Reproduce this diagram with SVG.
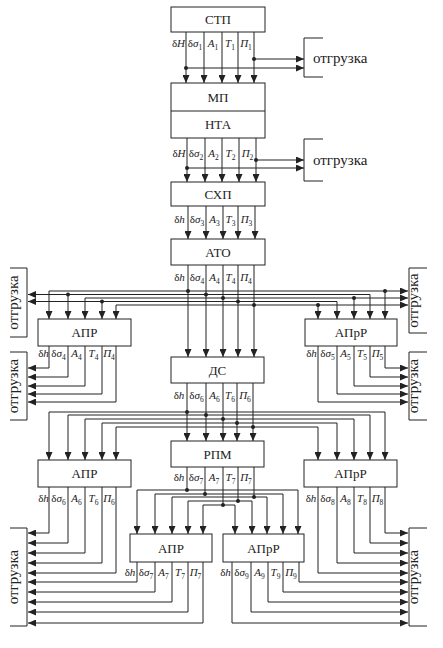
<svg xmlns="http://www.w3.org/2000/svg" width="443" height="648" viewBox="0 0 443 648">
<defs>
<style>
.ln{fill:none;stroke:#222;stroke-width:1}
.ar{marker-end:url(#ah)}
.box{fill:#fff;stroke:#222;stroke-width:1}
.bl{font-family:"Liberation Serif",serif;font-size:13px;text-anchor:middle;fill:#222}
.sg{font-family:"Liberation Serif",serif;font-size:11px;text-anchor:middle;fill:#222}
.i{font-style:italic}
.s{font-size:7.5px}
.ot{font-family:"Liberation Serif",serif;font-size:15px;fill:#222}
.otv{font-family:"Liberation Serif",serif;font-size:15px;fill:#222;text-anchor:middle}
.dot{fill:#222}
</style>
<marker id="ah" markerUnits="userSpaceOnUse" markerWidth="8" markerHeight="7" refX="8" refY="3.5" orient="auto">
<path d="M0,0L8,3.5L0,7z" fill="#222"/>
</marker>
</defs>
<rect width="443" height="648" fill="#fff"/>

<g id="connectors">
<path class="ln ar" d="M186,32V83"/><path class="ln ar" d="M204,32V83"/><path class="ln ar" d="M222,32V83"/><path class="ln ar" d="M238,32V83"/><path class="ln ar" d="M254,32V83"/>
<path class="ln ar" d="M254,59H304"/><path class="ln ar" d="M186,68H304"/>
<path class="ln ar" d="M187,138V182"/><path class="ln ar" d="M205,138V182"/><path class="ln ar" d="M222,138V182"/><path class="ln ar" d="M239,138V182"/><path class="ln ar" d="M256,138V182"/>
<path class="ln ar" d="M256,160H304"/><path class="ln ar" d="M187,168H304"/>
<path class="ln ar" d="M188,206V239"/><path class="ln ar" d="M206,206V239"/><path class="ln ar" d="M223,206V239"/><path class="ln ar" d="M238,206V239"/><path class="ln ar" d="M255,206V239"/>
<path class="ln ar" d="M188,265V357"/><path class="ln ar" d="M206,265V357"/><path class="ln ar" d="M223,265V357"/><path class="ln ar" d="M238,265V357"/><path class="ln ar" d="M254,265V357"/>
<path class="ln ar" d="M188,291H49V319"/><path class="ln ar" d="M188,291H408"/><path class="ln ar" d="M385,291V319"/>
<path class="ln ar" d="M206,294.5H28"/><path class="ln ar" d="M68,294.5V319"/><path class="ln ar" d="M206,294.5H370V319"/>
<path class="ln ar" d="M223,298H85V319"/><path class="ln ar" d="M223,298H408"/><path class="ln ar" d="M354,298V319"/>
<path class="ln ar" d="M238,301.5H28"/><path class="ln ar" d="M102,301.5V319"/><path class="ln ar" d="M238,301.5H337V319"/>
<path class="ln ar" d="M254,305H116V319"/><path class="ln ar" d="M254,305H408"/><path class="ln ar" d="M318,305V319"/>
<path class="ln ar" d="M49,346V368H28"/><path class="ln ar" d="M68,346V377H28"/><path class="ln ar" d="M85,346V386H28"/><path class="ln ar" d="M102,346V394H28"/><path class="ln ar" d="M116,346V402H28"/>
<path class="ln ar" d="M385,346V368H408"/><path class="ln ar" d="M370,346V377H408"/><path class="ln ar" d="M354,346V386H408"/><path class="ln ar" d="M337,346V394H408"/><path class="ln ar" d="M318,346V402H408"/>
<path class="ln ar" d="M187,383V441"/><path class="ln ar" d="M206,383V441"/><path class="ln ar" d="M223,383V441"/><path class="ln ar" d="M237,383V441"/><path class="ln ar" d="M253,383V441"/>
<path class="ln ar" d="M187,412H49V460"/><path class="ln ar" d="M187,412H385V460"/>
<path class="ln ar" d="M206,415H68V460"/><path class="ln ar" d="M206,415H370V460"/>
<path class="ln ar" d="M223,419H85V460"/><path class="ln ar" d="M223,419H354V460"/>
<path class="ln ar" d="M237,423H102V460"/><path class="ln ar" d="M237,423H337V460"/>
<path class="ln ar" d="M253,427H116V460"/><path class="ln ar" d="M253,427H318V460"/>
<path class="ln ar" d="M49,487V533H28"/><path class="ln ar" d="M68,487V543H28"/><path class="ln ar" d="M85,487V553H28"/><path class="ln ar" d="M102,487V563H28"/><path class="ln ar" d="M116,487V573H28"/>
<path class="ln ar" d="M385,487V533H408"/><path class="ln ar" d="M370,487V543H408"/><path class="ln ar" d="M354,487V553H408"/><path class="ln ar" d="M337,487V563H408"/><path class="ln ar" d="M318,487V573H408"/>
<path class="ln" d="M187,467V490"/><path class="ln" d="M205,467V494"/><path class="ln" d="M223,467V505"/><path class="ln" d="M238,467V501"/><path class="ln" d="M254,467V497"/>
<path class="ln ar" d="M187,490H137V534"/><path class="ln ar" d="M187,490H298V534"/>
<path class="ln ar" d="M205,494H155V534"/><path class="ln ar" d="M205,494H283V534"/>
<path class="ln ar" d="M254,497H172V534"/><path class="ln ar" d="M254,497H267V534"/>
<path class="ln ar" d="M238,501H188V534"/><path class="ln ar" d="M238,501H252V534"/>
<path class="ln ar" d="M223,505H203V534"/><path class="ln ar" d="M223,505H235V534"/>
<path class="ln ar" d="M137,562V582H28"/><path class="ln ar" d="M155,562V592H28"/><path class="ln ar" d="M172,562V602H28"/><path class="ln ar" d="M188,562V612H28"/><path class="ln ar" d="M203,562V623H28"/>
<path class="ln ar" d="M299,562V582H408"/><path class="ln ar" d="M283,562V592H408"/><path class="ln ar" d="M268,562V602H408"/><path class="ln ar" d="M251,562V612H408"/><path class="ln ar" d="M232,562V623H408"/>
<circle class="dot" cx="254" cy="59" r="2"/><circle class="dot" cx="186" cy="68" r="2"/>
<circle class="dot" cx="256" cy="160" r="2"/><circle class="dot" cx="187" cy="168" r="2"/>
<circle class="dot" cx="188" cy="291" r="2"/><circle class="dot" cx="385" cy="291" r="2"/>
<circle class="dot" cx="206" cy="294.5" r="2"/><circle class="dot" cx="68" cy="294.5" r="2"/>
<circle class="dot" cx="223" cy="298" r="2"/><circle class="dot" cx="354" cy="298" r="2"/>
<circle class="dot" cx="238" cy="301.5" r="2"/><circle class="dot" cx="102" cy="301.5" r="2"/>
<circle class="dot" cx="254" cy="305" r="2"/><circle class="dot" cx="318" cy="305" r="2"/>
<circle class="dot" cx="187" cy="412" r="2"/><circle class="dot" cx="206" cy="415" r="2"/><circle class="dot" cx="223" cy="419" r="2"/><circle class="dot" cx="237" cy="423" r="2"/><circle class="dot" cx="253" cy="427" r="2"/>
<circle class="dot" cx="187" cy="490" r="2"/><circle class="dot" cx="205" cy="494" r="2"/><circle class="dot" cx="254" cy="497" r="2"/><circle class="dot" cx="238" cy="501" r="2"/><circle class="dot" cx="223" cy="505" r="2"/>
</g>

<g id="signal-labels">
<text class="sg" x="178.5" y="47">δ<tspan class="i">H</tspan></text>
<text class="sg" x="195" y="47">δ<tspan class="i">σ</tspan><tspan class="s" dy="2.5">1</tspan></text>
<text class="sg" x="213" y="47"><tspan class="i">A</tspan><tspan class="s" dy="2.5">1</tspan></text>
<text class="sg" x="230" y="47"><tspan class="i">T</tspan><tspan class="s" dy="2.5">1</tspan></text>
<text class="sg" x="246" y="47"><tspan class="i">П</tspan><tspan class="s" dy="2.5">1</tspan></text>

<text class="sg" x="179" y="157">δ<tspan class="i">H</tspan></text>
<text class="sg" x="196" y="157">δ<tspan class="i">σ</tspan><tspan class="s" dy="2.5">2</tspan></text>
<text class="sg" x="213.5" y="157"><tspan class="i">A</tspan><tspan class="s" dy="2.5">2</tspan></text>
<text class="sg" x="230.5" y="157"><tspan class="i">T</tspan><tspan class="s" dy="2.5">2</tspan></text>
<text class="sg" x="247.5" y="157"><tspan class="i">П</tspan><tspan class="s" dy="2.5">2</tspan></text>

<text class="sg" x="179.5" y="223">δ<tspan class="i">h</tspan></text>
<text class="sg" x="197" y="223">δ<tspan class="i">σ</tspan><tspan class="s" dy="2.5">3</tspan></text>
<text class="sg" x="214.5" y="223"><tspan class="i">A</tspan><tspan class="s" dy="2.5">3</tspan></text>
<text class="sg" x="230.5" y="223"><tspan class="i">T</tspan><tspan class="s" dy="2.5">3</tspan></text>
<text class="sg" x="246.5" y="223"><tspan class="i">П</tspan><tspan class="s" dy="2.5">3</tspan></text>

<text class="sg" x="179.5" y="281">δ<tspan class="i">h</tspan></text>
<text class="sg" x="197" y="281">δ<tspan class="i">σ</tspan><tspan class="s" dy="2.5">4</tspan></text>
<text class="sg" x="214.5" y="281"><tspan class="i">A</tspan><tspan class="s" dy="2.5">4</tspan></text>
<text class="sg" x="230.5" y="281"><tspan class="i">T</tspan><tspan class="s" dy="2.5">4</tspan></text>
<text class="sg" x="246" y="281"><tspan class="i">П</tspan><tspan class="s" dy="2.5">4</tspan></text>

<text class="sg" x="43.5" y="357">δ<tspan class="i">h</tspan></text>
<text class="sg" x="58.5" y="357">δ<tspan class="i">σ</tspan><tspan class="s" dy="2.5">4</tspan></text>
<text class="sg" x="76.5" y="357"><tspan class="i">A</tspan><tspan class="s" dy="2.5">4</tspan></text>
<text class="sg" x="93.5" y="357"><tspan class="i">T</tspan><tspan class="s" dy="2.5">4</tspan></text>
<text class="sg" x="109" y="357"><tspan class="i">П</tspan><tspan class="s" dy="2.5">4</tspan></text>

<text class="sg" x="311.5" y="357">δ<tspan class="i">h</tspan></text>
<text class="sg" x="327.5" y="357">δ<tspan class="i">σ</tspan><tspan class="s" dy="2.5">5</tspan></text>
<text class="sg" x="345.5" y="357"><tspan class="i">A</tspan><tspan class="s" dy="2.5">5</tspan></text>
<text class="sg" x="362" y="357"><tspan class="i">T</tspan><tspan class="s" dy="2.5">5</tspan></text>
<text class="sg" x="377.5" y="357"><tspan class="i">П</tspan><tspan class="s" dy="2.5">5</tspan></text>

<text class="sg" x="179" y="399">δ<tspan class="i">h</tspan></text>
<text class="sg" x="196.5" y="399">δ<tspan class="i">σ</tspan><tspan class="s" dy="2.5">6</tspan></text>
<text class="sg" x="214.5" y="399"><tspan class="i">A</tspan><tspan class="s" dy="2.5">6</tspan></text>
<text class="sg" x="230" y="399"><tspan class="i">T</tspan><tspan class="s" dy="2.5">6</tspan></text>
<text class="sg" x="245" y="399"><tspan class="i">П</tspan><tspan class="s" dy="2.5">6</tspan></text>

<text class="sg" x="179" y="481">δ<tspan class="i">h</tspan></text>
<text class="sg" x="196" y="481">δ<tspan class="i">σ</tspan><tspan class="s" dy="2.5">7</tspan></text>
<text class="sg" x="214" y="481"><tspan class="i">A</tspan><tspan class="s" dy="2.5">7</tspan></text>
<text class="sg" x="230.5" y="481"><tspan class="i">T</tspan><tspan class="s" dy="2.5">7</tspan></text>
<text class="sg" x="246" y="481"><tspan class="i">П</tspan><tspan class="s" dy="2.5">7</tspan></text>

<text class="sg" x="43.5" y="502">δ<tspan class="i">h</tspan></text>
<text class="sg" x="58.5" y="502">δ<tspan class="i">σ</tspan><tspan class="s" dy="2.5">6</tspan></text>
<text class="sg" x="76.5" y="502"><tspan class="i">A</tspan><tspan class="s" dy="2.5">6</tspan></text>
<text class="sg" x="93.5" y="502"><tspan class="i">T</tspan><tspan class="s" dy="2.5">6</tspan></text>
<text class="sg" x="109" y="502"><tspan class="i">П</tspan><tspan class="s" dy="2.5">6</tspan></text>

<text class="sg" x="311" y="502">δ<tspan class="i">h</tspan></text>
<text class="sg" x="327.5" y="502">δ<tspan class="i">σ</tspan><tspan class="s" dy="2.5">8</tspan></text>
<text class="sg" x="345.5" y="502"><tspan class="i">A</tspan><tspan class="s" dy="2.5">8</tspan></text>
<text class="sg" x="362" y="502"><tspan class="i">T</tspan><tspan class="s" dy="2.5">8</tspan></text>
<text class="sg" x="377.5" y="502"><tspan class="i">П</tspan><tspan class="s" dy="2.5">8</tspan></text>

<text class="sg" x="130" y="576">δ<tspan class="i">h</tspan></text>
<text class="sg" x="146" y="576">δ<tspan class="i">σ</tspan><tspan class="s" dy="2.5">7</tspan></text>
<text class="sg" x="163.5" y="576"><tspan class="i">A</tspan><tspan class="s" dy="2.5">7</tspan></text>
<text class="sg" x="180" y="576"><tspan class="i">T</tspan><tspan class="s" dy="2.5">7</tspan></text>
<text class="sg" x="195.5" y="576"><tspan class="i">П</tspan><tspan class="s" dy="2.5">7</tspan></text>

<text class="sg" x="225.5" y="576">δ<tspan class="i">h</tspan></text>
<text class="sg" x="241.5" y="576">δ<tspan class="i">σ</tspan><tspan class="s" dy="2.5">9</tspan></text>
<text class="sg" x="259.5" y="576"><tspan class="i">A</tspan><tspan class="s" dy="2.5">9</tspan></text>
<text class="sg" x="275.5" y="576"><tspan class="i">T</tspan><tspan class="s" dy="2.5">9</tspan></text>
<text class="sg" x="291" y="576"><tspan class="i">П</tspan><tspan class="s" dy="2.5">9</tspan></text>
</g>

<g id="node-stp"><rect class="box" x="171" y="7" width="94" height="25"/><text class="bl" x="218" y="24">СТП</text></g>
<g id="node-mp-nta"><rect class="box" x="171" y="83" width="94" height="55"/><line class="ln" x1="171" y1="111" x2="265" y2="111"/><text class="bl" x="218" y="101.5">МП</text><text class="bl" x="218" y="129">НТА</text></g>
<g id="node-shp"><rect class="box" x="171" y="182" width="94" height="24"/><text class="bl" x="218" y="198.5">СХП</text></g>
<g id="node-ato"><rect class="box" x="171" y="239" width="94" height="26"/><text class="bl" x="218" y="256.5">АТО</text></g>
<g id="node-apr1"><rect class="box" x="38" y="319" width="93" height="27"/><text class="bl" x="84.5" y="337">АПР</text></g>
<g id="node-aprr1"><rect class="box" x="305" y="319" width="92" height="27"/><text class="bl" x="351" y="337">АПрР</text></g>
<g id="node-ds"><rect class="box" x="171" y="357" width="93" height="26"/><text class="bl" x="217.5" y="374.5">ДС</text></g>
<g id="node-rpm"><rect class="box" x="171" y="441" width="93" height="26"/><text class="bl" x="217.5" y="458.5">РПМ</text></g>
<g id="node-apr2"><rect class="box" x="38" y="460" width="93" height="27"/><text class="bl" x="84.5" y="478">АПР</text></g>
<g id="node-aprr2"><rect class="box" x="304" y="460" width="93" height="27"/><text class="bl" x="350.5" y="478">АПрР</text></g>
<g id="node-apr3"><rect class="box" x="130" y="534" width="82" height="28"/><text class="bl" x="171" y="552.5">АПР</text></g>
<g id="node-aprr3"><rect class="box" x="223" y="534" width="81" height="28"/><text class="bl" x="263.5" y="552.5">АПрР</text></g>

<g id="node-otgr-top1"><path class="ln" d="M323,38H304V77H323"/><text class="ot" x="313" y="63">отгрузка</text></g>
<g id="node-otgr-top2"><path class="ln" d="M323,139H304V181H323"/><text class="ot" x="313" y="165">отгрузка</text></g>
<g id="node-otgr-l1"><path class="ln" d="M10,268H27V337H10"/><text class="otv" transform="translate(18,302.5) rotate(-90)">отгрузка</text></g>
<g id="node-otgr-l2"><path class="ln" d="M10,352H27V420H10"/><text class="otv" transform="translate(18,386) rotate(-90)">отгрузка</text></g>
<g id="node-otgr-l3"><path class="ln" d="M10,528H27V626H10"/><text class="otv" transform="translate(18,577) rotate(-90)">отгрузка</text></g>
<g id="node-otgr-r1"><path class="ln" d="M427,268H409V333H427"/><text class="otv" transform="translate(418,300.5) rotate(-90)">отгрузка</text></g>
<g id="node-otgr-r2"><path class="ln" d="M427,352H409V420H427"/><text class="otv" transform="translate(418,386) rotate(-90)">отгрузка</text></g>
<g id="node-otgr-r3"><path class="ln" d="M427,528H409V626H427"/><text class="otv" transform="translate(418,577) rotate(-90)">отгрузка</text></g>
</svg>
